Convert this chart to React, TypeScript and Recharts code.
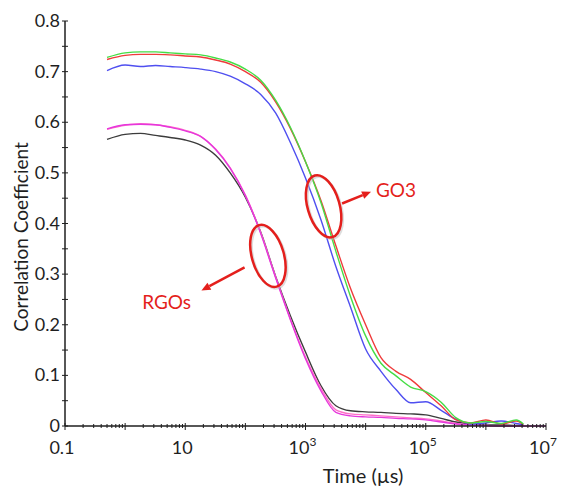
import {
  LineChart,
  Line,
  XAxis,
  YAxis,
  ReferenceDot,
  ReferenceLine,
} from 'recharts';

// time grid (µs), shared by all curves
const times = [
  0.5, 1, 1.8, 3.2, 5.6, 10, 18, 32, 56, 100, 180, 320, 560, 1000, 1800, 3200,
  5600, 1e4, 1.8e4, 3.2e4, 5.6e4, 1e5, 1.8e5, 3.2e5, 5.6e5, 1e6, 1.8e6, 3.2e6,
  4.2e6, 7e6, 1e7,
];

// GO3 samples
const go3Green = [
  0.728, 0.737, 0.739, 0.739, 0.737, 0.735, 0.733, 0.727, 0.719, 0.705, 0.683,
  0.643, 0.59, 0.522, 0.442, 0.345, 0.256, 0.178, 0.124, 0.099, 0.077, 0.068,
  0.047, 0.016, 0.006, 0.009, 0.005, 0.012, 0.004, null, null,
];
const go3Red = [
  0.724, 0.732, 0.734, 0.734, 0.733, 0.731, 0.729, 0.723, 0.715, 0.7, 0.679,
  0.64, 0.588, 0.522, 0.446, 0.356, 0.272, 0.2, 0.135, 0.108, 0.092, 0.066,
  0.04, 0.012, 0.006, 0.012, 0.004, 0.01, 0.003, null, null,
];
const go3Blue = [
  0.702, 0.713, 0.71, 0.712, 0.71, 0.708, 0.705, 0.7, 0.691, 0.676, 0.655,
  0.618, 0.56, 0.49, 0.408, 0.315, 0.235, 0.152, 0.108, 0.072, 0.046, 0.048,
  0.031, 0.013, 0.004, 0.006, 0.01, 0.005, 0.002, null, null,
];

// RGOs samples
const rgoMagenta = [
  0.587, 0.595, 0.596, 0.595, 0.59, 0.583, 0.572, 0.546, 0.509, 0.455, 0.38,
  0.292, 0.21, 0.133, 0.07, 0.027, 0.02, 0.018, 0.017, 0.015, 0.014, 0.012,
  0.008, 0.004, 0.002, 0.001, 0, 0, 0, 0, 0,
];
const rgoPink = [
  0.586, 0.594, 0.597, 0.595, 0.591, 0.584, 0.572, 0.547, 0.51, 0.456, 0.382,
  0.294, 0.212, 0.136, 0.075, 0.032, 0.024, 0.022, 0.02, 0.018, 0.016, 0.014,
  0.01, 0.005, 0.002, 0.001, 0, 0, 0, null, null,
];
const rgoBlack = [
  0.566, 0.576, 0.578, 0.574, 0.57, 0.565, 0.555, 0.535, 0.5, 0.452, 0.383,
  0.295, 0.218, 0.146, 0.08, 0.04, 0.03, 0.028, 0.027, 0.025, 0.024, 0.022,
  0.015, 0.008, 0.004, 0.002, 0.002, 0.001, 0.001, null, null,
];

const decades = [0.1, 1, 10, 100, 1e3, 1e4, 1e5, 1e6, 1e7];
const minorSteps = [2, 3, 4, 5, 6, 7, 8, 9];
const xLabels: Record<string, [string, string]> = {
  '0.1': ['0.1', ''],
  '10': ['10', ''],
  '1000': ['10', '3'],
  '100000': ['10', '5'],
  '10000000': ['10', '7'],
};
const yTicks = [
  0, 0.05, 0.1, 0.15, 0.2, 0.25, 0.3, 0.35, 0.4, 0.45, 0.5, 0.55, 0.6, 0.65,
  0.7, 0.75, 0.8,
];
const yLabels = ['0', '0.1', '0.2', '0.3', '0.4', '0.5', '0.6', '0.7', '0.8'];

// annotations (data coords)
const ellipses = [
  { t: 2000, v: 0.434 },
  { t: 237, v: 0.336 },
];
const arrows = [
  { from: [4060, 0.4395], to: [12300, 0.4628] },
  { from: [97, 0.3135], to: [18.6, 0.2677] },
];
const notes = [
  { t: 32000, v: 0.466, text: 'GO3' },
  { t: 4.9, v: 0.244, text: 'RGOs' },
];

const rows = times.map((t, i) => ({
  t,
  green: go3Green[i],
  red: go3Red[i],
  blue: go3Blue[i],
  magenta: rgoMagenta[i],
  pink: rgoPink[i],
  black: rgoBlack[i],
}));

const xTicks: number[] = [];
decades.forEach((d, i) => {
  xTicks.push(d);
  if (i < decades.length - 1) minorSteps.forEach((m) => xTicks.push(+(d * m).toPrecision(3)));
});

const FONT = 'Lato, "Open Sans", sans-serif';
const INK = '#1f1f1f';
const ANNO = '#e41f1c';

const XTick = (props: any) => {
  const { x, y, payload } = props;
  const v = payload.value;
  const lg = Math.log10(v);
  const major = Math.abs(lg - Math.round(lg)) < 1e-6;
  const lab = xLabels[String(v)];
  return (
    <g>
      <line x1={x} x2={x} y1={major ? y - 3 : y - 2} y2={major ? y + 4 : y + 2} stroke={INK} strokeWidth={1} />
      {lab && (
        <text x={x - 3} y={y + 28} textAnchor="middle" fontFamily={FONT} fontSize={18} fill={INK}>
          <tspan>{lab[0]}</tspan>
          {lab[1] && (
            <tspan dy={-8} fontSize={12}>
              {lab[1]}
            </tspan>
          )}
        </text>
      )}
    </g>
  );
};

const YTick = (props: any) => {
  const { x, y, payload } = props;
  const v = payload.value;
  const idx = Math.round(v * 100);
  const lab = idx % 10 === 0 ? yLabels[idx / 10] : null;
  return (
    <g>
      <line x1={x - 3} x2={x + 3} y1={y} y2={y} stroke={INK} strokeWidth={1} />
      {lab && (
        <text x={x - 5} y={y} dy={6} textAnchor="end" fontFamily={FONT} fontSize={18} fill={INK}>
          {lab}
        </text>
      )}
    </g>
  );
};

const Ellipse = (p: any) => (
  <g>
    <ellipse
      cx={p.cx + 1.5}
      cy={p.cy + 1.5}
      rx={16}
      ry={32}
      transform={`rotate(-16 ${p.cx + 1.5} ${p.cy + 1.5})`}
      fill="none"
      stroke="#bbb"
      strokeOpacity={0.5}
      strokeWidth={2.5}
    />
    <ellipse
      cx={p.cx}
      cy={p.cy}
      rx={16}
      ry={32}
      transform={`rotate(-16 ${p.cx} ${p.cy})`}
      fill="none"
      stroke={ANNO}
      strokeWidth={2.5}
    />
  </g>
);

const Arrow = (p: any) => {
  const { x1, y1, x2, y2 } = p;
  const a = Math.atan2(y2 - y1, x2 - x1);
  const len = 9;
  const w = 4;
  const bx = x2 - len * Math.cos(a);
  const by = y2 - len * Math.sin(a);
  const nx = -Math.sin(a) * w;
  const ny = Math.cos(a) * w;
  return (
    <g>
      <line x1={x1} y1={y1} x2={bx} y2={by} stroke={ANNO} strokeWidth={2.5} />
      <polygon points={`${x2},${y2} ${bx + nx},${by + ny} ${bx - nx},${by - ny}`} fill={ANNO} />
    </g>
  );
};

const series = [
  { key: 'black', color: '#3c3c3c' },
  { key: 'pink', color: '#ff6fc8' },
  { key: 'magenta', color: '#e637dc' },
  { key: 'blue', color: '#4f4ff0' },
  { key: 'red', color: '#ef3b3b' },
  { key: 'green', color: '#45dd45' },
];

export default function App() {
  return (
    <div style={{ position: 'absolute', left: 0, top: 0, width: 564, height: 489, background: '#fff' }}>
      <LineChart width={564} height={489} data={rows} margin={{ top: 21, right: 18, bottom: 0, left: 9 }}>
        <XAxis
          dataKey="t"
          type="number"
          scale="log"
          domain={[0.1, 1e7]}
          allowDataOverflow
          ticks={xTicks}
          interval={0}
          tick={<XTick />}
          tickLine={false}
          tickSize={0}
          tickMargin={0}
          height={63}
          axisLine={{ stroke: INK, strokeWidth: 1.5 }}
        />
        <YAxis
          type="number"
          domain={[0, 0.8]}
          ticks={yTicks}
          interval={0}
          tick={<YTick />}
          tickLine={false}
          tickSize={0}
          tickMargin={0}
          width={56}
          axisLine={{ stroke: INK, strokeWidth: 1.5 }}
        />
        {series.map((s) => (
          <Line
            key={s.key}
            dataKey={s.key}
            type="monotone"
            stroke={s.color}
            strokeWidth={1.4}
            dot={false}
            isAnimationActive={false}
          />
        ))}
        {ellipses.map((e, i) => (
          <ReferenceDot key={'e' + i} x={e.t} y={e.v} shape={Ellipse} />
        ))}
        {arrows.map((a, i) => (
          <ReferenceLine
            key={'a' + i}
            segment={[
              { x: a.from[0], y: a.from[1] },
              { x: a.to[0], y: a.to[1] },
            ]}
            shape={Arrow}
          />
        ))}
        {notes.map((n, i) => (
          <ReferenceDot
            key={'n' + i}
            x={n.t}
            y={n.v}
            shape={(p: any) => (
              <text x={p.cx} y={p.cy} dy={7} textAnchor="middle" fontFamily={FONT} fontSize={19} fill={ANNO}>
                {n.text}
              </text>
            )}
          />
        ))}
      </LineChart>
      <div
        style={{
          position: 'absolute',
          left: 20,
          top: 237,
          transform: 'translate(-50%, -50%) rotate(-90deg)',
          whiteSpace: 'nowrap',
          fontFamily: FONT,
          fontSize: 19,
          color: INK,
        }}
      >
        Correlation Coefficient
      </div>
      <div
        style={{
          position: 'absolute',
          left: 363,
          top: 475,
          transform: 'translate(-50%, -50%)',
          whiteSpace: 'nowrap',
          fontFamily: FONT,
          fontSize: 20,
          color: INK,
        }}
      >
        Time (µs)
      </div>
    </div>
  );
}
